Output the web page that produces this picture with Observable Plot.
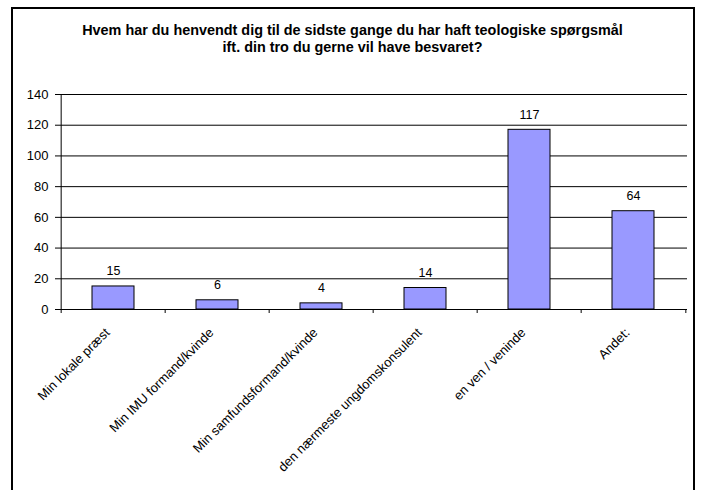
<!DOCTYPE html>
<html>
<head>
<meta charset="utf-8">
<script src="https://cdn.jsdelivr.net/npm/d3@7"></script>
<script src="https://cdn.jsdelivr.net/npm/@observablehq/plot@0.6"></script>
<style>
  html, body { margin: 0; padding: 0; background: #fff; overflow: hidden; }
  #frame { position: absolute; left: 11px; top: 7px; width: 684px; height: 540px; border: 2px solid #000; box-sizing: border-box; }
  #chart { position: absolute; left: 0; top: 0; width: 703px; }
  #title { height: 60px; padding-top: 22px; box-sizing: border-box; margin-left: 12px; width: 681px;
           text-align: center; font-family: "Liberation Sans", Arial, sans-serif; font-weight: bold;
           font-size: 14.4px; line-height: 17px; color: #000; white-space: nowrap; }
</style>
</head>
<body>
<div id="frame"></div>
<div id="chart">
  <div id="title">Hvem har du henvendt dig til de sidste gange du har haft teologiske spørgsmål<br>ift. din tro du gerne vil have besvaret?</div>
</div>
<script>
const categories = [
  "Min lokale præst",
  "Min IMU formand/kvinde",
  "Min samfundsformand/kvinde",
  "den nærmeste ungdomskonsulent",
  "en ven / veninde",
  "Andet:"
];
const counts = [15, 6, 4, 14, 117, 64];
const yTicks = [0, 20, 40, 60, 80, 100, 120, 140];

const data = categories.map((c, i) => ({category: c, count: counts[i]}));

const W = 703, H = 430, mL = 59, mR = 16, mT = 34, mB = 181;
const step = (W - mL - mR) / categories.length;

const chart = Plot.plot({
  width: W,
  height: H,
  marginLeft: mL,
  marginRight: mR,
  marginTop: mT,
  marginBottom: mB,
  style: {fontFamily: "'Liberation Sans', Arial, sans-serif", fontSize: "12.5px", color: "#000", background: "transparent", overflow: "visible"},
  x: {domain: categories, padding: 0, label: null},
  y: {domain: [0, 140], label: null},
  marks: [
    Plot.ruleY(yTicks, {stroke: "#000", strokeWidth: 1}),
    Plot.ruleX([categories[0]], {dx: -step / 2, stroke: "#000"}),
    Plot.ruleX(categories, {x: d => d, y1: () => 0, y2: () => 0, dx: -step / 2, insetBottom: -4, stroke: "#000"}),
    Plot.ruleX([categories[categories.length - 1]], {x: d => d, y1: () => 0, y2: () => 0, dx: step / 2, insetBottom: -4, stroke: "#000"}),
    Plot.barY(data, {x: "category", y: "count", fill: "#9999FF", stroke: "#000", strokeWidth: 1, insetLeft: 31, insetRight: 31}),
    Plot.text(data, {x: "category", y: "count", text: d => String(d.count), dy: -15, fill: "#000", fontSize: 12.5}),
    Plot.axisY({ticks: yTicks, tickSize: 4, tickPadding: 7, tickFormat: d => String(d), label: null, stroke: "#000", fontSize: 13}),
    Plot.axisX({tickSize: 0, tickRotate: -45, tickPadding: 21, dx: -6, label: null, fontSize: 13})
  ]
});
document.getElementById("chart").appendChild(chart);
</script>
</body>
</html>
